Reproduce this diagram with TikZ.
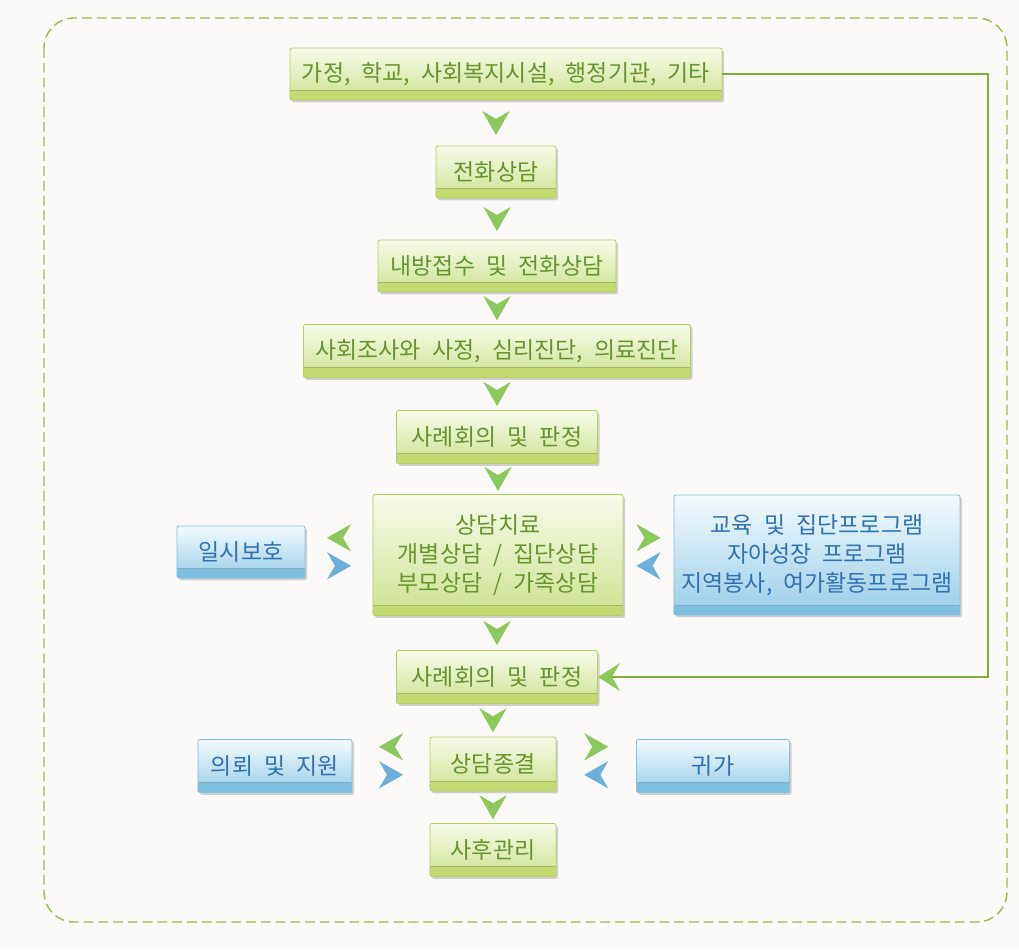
\documentclass[tikz,border=0pt]{standalone}
\usepackage{fontspec}
\newfontfamily\kr[WordSpace=2.2]{Noto Sans CJK KR}
\usetikzlibrary{arrows.meta,shadows,decorations.markings}

\definecolor{pagebg}{HTML}{FBFAF8}
\definecolor{frame}{HTML}{9BBA4C}
\definecolor{gtop}{HTML}{F7FBEC}
\definecolor{gbot}{HTML}{CDE28E}
\definecolor{gband}{HTML}{C3DB72}
\definecolor{gedge}{HTML}{B3CF66}
\definecolor{gtext}{HTML}{66952A}
\definecolor{btop}{HTML}{F4FAFD}
\definecolor{bbot}{HTML}{98CEE8}
\definecolor{bband}{HTML}{7CBFDF}
\definecolor{bedge}{HTML}{86C0E0}
\definecolor{btext}{HTML}{2F72B2}
\definecolor{agreen}{HTML}{8CC85C}
\definecolor{ablue}{HTML}{6CAEDC}
\definecolor{fback}{HTML}{7FAE3C}

\tikzset{
  box/.style={rounded corners=1.5pt, line width=0.6pt, inner sep=0pt, align=center,
    font=\kr\fontsize{16.3pt}{20.6pt}\selectfont,
    drop shadow={shadow xshift=0.05cm, shadow yshift=-0.06cm, opacity=0.35}},
  band/.style 2 args={path picture={
    \fill[#1] (path picture bounding box.south west) rectangle ([yshift=0.25cm]path picture bounding box.south east);
    \draw[#2, line width=0.5pt] ([yshift=0.25cm]path picture bounding box.south west) -- ([yshift=0.25cm]path picture bounding box.south east);}},
  gbox/.style={box, draw=gedge, top color=gtop, bottom color=gbot, text=gtext, band={gband}{gedge!70!gray}},
  bbox/.style={box, draw=bedge, top color=btop, bottom color=bbot, text=btext, band={bband}{bedge!70!gray}},
  flow/.style={postaction=decorate, decoration={markings, mark=at position 0.5 with
    {\arrow[xshift=0.3cm]{Stealth[length=0.6cm,width=0.68cm,inset=0.2cm,color=#1]}}}}
}

\begin{document}
\begin{tikzpicture}[x=0.025cm, y=-0.025cm]
	\fill[pagebg] (0,0) rectangle (1019,949);
	\useasboundingbox (0,0) rectangle (1019,949);
	\draw[frame, line width=1pt, dash pattern=on 7pt off 3.5pt, rounded corners=0.75cm] (44,18) rectangle (1007,922);

	% main column
	\node[gbox, minimum width=10.8cm, minimum height=1.3cm] (src) at (506,74) {가정, 학교, 사회복지시설, 행정기관, 기타};
	\node[gbox, minimum width=3cm, minimum height=1.3cm] (phone) at (496,172) {전화상담};
	\node[gbox, minimum width=5.95cm, minimum height=1.3cm] (visit) at (497,266) {내방접수 및 전화상담};
	\node[gbox, minimum width=9.675cm, minimum height=1.325cm] (survey) at (497,351) {사회조사와 사정, 심리진단, 의료진단};
	\node[gbox, minimum width=5.025cm, minimum height=1.325cm] (case1) at (497,437) {사례회의 및 판정};
	\node[gbox, minimum width=6.25cm, minimum height=3.025cm] (care) at (498,555) {상담치료\\개별상담 / 집단상담\\부모상담 / 가족상담};
	\node[gbox, minimum width=5.025cm, minimum height=1.325cm] (case2) at (497,677) {사례회의 및 판정};
	\node[gbox, minimum width=3.15cm, minimum height=1.35cm] (close) at (493,764) {상담종결};
	\node[gbox, minimum width=3.15cm, minimum height=1.325cm] (after) at (493,850) {사후관리};

	% side boxes
	\node[bbox, minimum width=3.2cm, minimum height=1.3cm] (shelter) at (241,552) {일시보호};
	\node[bbox, minimum width=7.15cm, minimum height=3cm] (edu) at (817,555) {교육 및 집단프로그램\\자아성장 프로그램\\지역봉사, 여가활동프로그램};
	\node[bbox, minimum width=3.85cm, minimum height=1.325cm] (refer) at (275,766) {의뢰 및 지원};
	\node[bbox, minimum width=3.825cm, minimum height=1.325cm] (home) at (713,766) {귀가};

	\foreach \a/\b in {src/phone, phone/visit, visit/survey, survey/case1, case1/care, care/case2, case2/close, close/after}
		\path[flow=agreen] (\b |- \a.south) -- (\b.north);

	\foreach \c/\l/\r in {care/shelter/edu, close/refer/home}{
		\path[flow=agreen] ([yshift=0.43cm]\c.west) -- ([yshift=0.43cm]\c.west -| \l.east);
		\path[flow=ablue] ([yshift=-0.27cm]\c.west -| \l.east) -- ([yshift=-0.27cm]\c.west);
		\path[flow=agreen] ([yshift=0.43cm]\c.east) -- ([yshift=0.43cm]\c.east -| \r.west);
		\path[flow=ablue] ([yshift=-0.27cm]\c.east -| \r.west) -- ([yshift=-0.27cm]\c.east);
	}

	% back to case meeting
	\coordinate (turn) at (988,74);
	\draw[fback, line width=1.3pt, -{Stealth[length=0.55cm,width=0.7cm,inset=0.2cm,color=agreen]}] (src.east) -- (turn) |- (case2.east);
\end{tikzpicture}
\end{document}
